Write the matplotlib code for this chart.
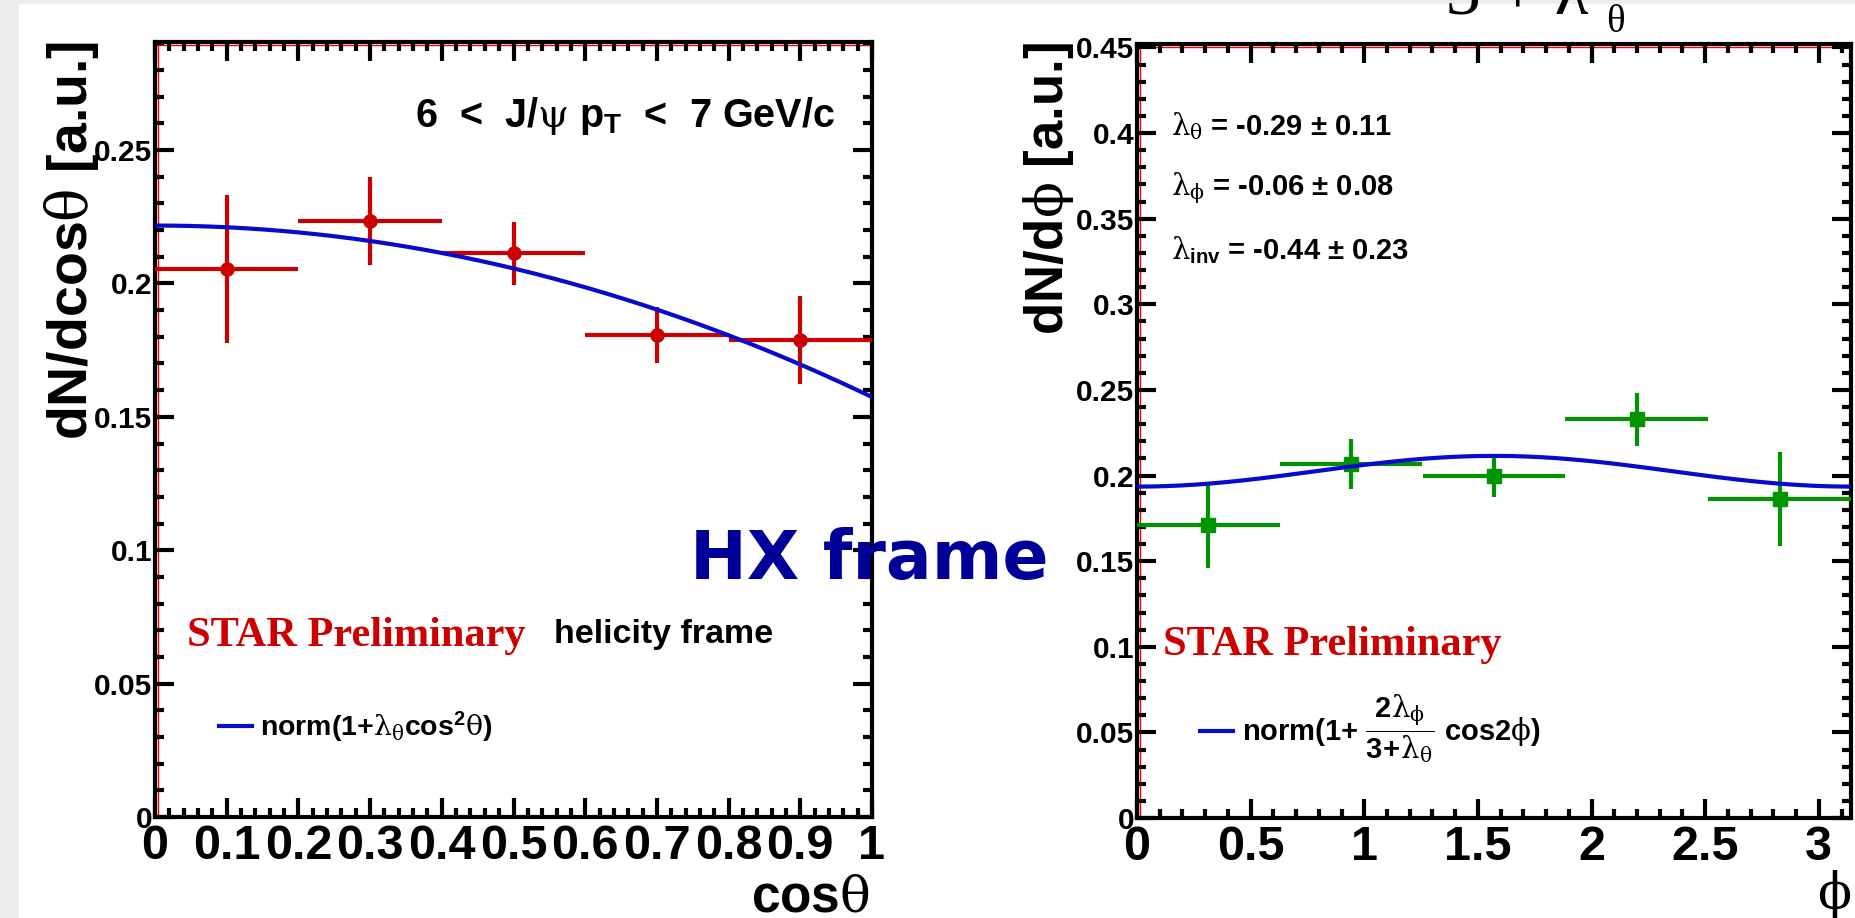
import numpy as np
import matplotlib
matplotlib.use("Agg")
import matplotlib.pyplot as plt
from matplotlib.patches import Rectangle
from matplotlib.lines import Line2D
from matplotlib.ticker import MultipleLocator
from matplotlib.transforms import ScaledTranslation

plt.rcParams["font.family"] = ["Liberation Sans", "DejaVu Sans"]
plt.rcParams["font.weight"] = "bold"
plt.rcParams["mathtext.fontset"] = "custom"
plt.rcParams["mathtext.rm"] = "Liberation Sans:bold"
plt.rcParams["mathtext.bf"] = "Liberation Sans:bold"
plt.rcParams["mathtext.it"] = "DejaVu Serif:weight=normal"
plt.rcParams["mathtext.fallback"] = "stix"

# cos(theta) distribution, helicity frame
cos_centers = [0.1, 0.3, 0.5, 0.7, 0.9]
cos_halfwidth = [0.1, 0.1, 0.1, 0.1, 0.1]
cos_yield = [0.2053, 0.2235, 0.2113, 0.1807, 0.1788]
cos_err = [0.0278, 0.0165, 0.0119, 0.0105, 0.0166]
cos_ticks = [0, 0.1, 0.2, 0.3, 0.4, 0.5, 0.6, 0.7, 0.8, 0.9, 1.0]
cos_tick_labels = ["0", "0.1", "0.2", "0.3", "0.4", "0.5", "0.6", "0.7", "0.8", "0.9", "1"]
cos_yticks = [0, 0.05, 0.1, 0.15, 0.2, 0.25]
cos_ytick_labels = ["0", "0.05", "0.1", "0.15", "0.2", "0.25"]

# phi distribution
phi_centers = [0.314, 0.942, 1.571, 2.199, 2.827]
phi_halfwidth = [0.314, 0.314, 0.314, 0.314, 0.314]
phi_yield = [0.1710, 0.2070, 0.1997, 0.2328, 0.1863]
phi_err = [0.0250, 0.0146, 0.0120, 0.0153, 0.0275]
phi_ticks = [0, 0.5, 1.0, 1.5, 2.0, 2.5, 3.0]
phi_tick_labels = ["0", "0.5", "1", "1.5", "2", "2.5", "3"]
phi_yticks = [0, 0.05, 0.1, 0.15, 0.2, 0.25, 0.3, 0.35, 0.4, 0.45]
phi_ytick_labels = ["0", "0.05", "0.1", "0.15", "0.2", "0.25", "0.3", "0.35", "0.4", "0.45"]

# fit results
norm_cos = 0.2217
norm_phi = 0.2025
lam_theta = -0.29
lam_phi = -0.06

W, H = 1856, 918
fig = plt.figure(figsize=(W / 100, H / 100), dpi=100, facecolor="#ececec")
fig.patches.append(Rectangle((19 / W, 0), 1 - 19 / W, 1 - 4 / H,
                             transform=fig.transFigure, color="white", zorder=-5))


def fx(px):
    return px / W


def fy(py):
    return 1 - py / H


def style(ax, xminor, yminor):
    ax.xaxis.set_minor_locator(MultipleLocator(xminor))
    ax.yaxis.set_minor_locator(MultipleLocator(yminor))
    ax.tick_params(which="both", direction="in", top=True, right=True,
                   width=3, color="black")
    ax.tick_params(which="major", length=14)
    ax.tick_params(which="minor", length=6.5)
    ax.tick_params(axis="x", labelsize=35, pad=5)
    ax.tick_params(axis="y", labelsize=21.5, pad=2)
    for s in ax.spines.values():
        s.set_linewidth(3)
    offx = ScaledTranslation(3 / 100, 0, fig.dpi_scale_trans)
    offy = ScaledTranslation(0, -3 / 100, fig.dpi_scale_trans)
    ax.add_line(Line2D([0, 0], [0, 1], transform=ax.transAxes + offx,
                       color="red", lw=1, zorder=1, clip_on=False))
    ax.add_line(Line2D([0, 1], [1, 1], transform=ax.transAxes + offy,
                       color="red", lw=1, zorder=1, clip_on=False))


# left panel
ax1 = fig.add_axes([fx(155), fy(817), (872 - 155) / W, (817 - 42) / H])
ax1.errorbar(cos_centers, cos_yield, xerr=cos_halfwidth, yerr=cos_err, fmt="o",
             color="#cc0000", ms=9.5, lw=3, capsize=0, zorder=3)
ct = np.linspace(0, 1, 200)
ax1.plot(ct, norm_cos * (1 + lam_theta * ct ** 2), color="#0a0acc", lw=3, zorder=4,
         label=r"norm(1+$\lambda_\theta$cos$^2\theta$)")
ax1.set_xlim(0, 1)
ax1.set_ylim(0, 0.2905)
ax1.set_xticks(cos_ticks, cos_tick_labels)
ax1.set_yticks(cos_yticks, cos_ytick_labels)
style(ax1, 0.02, 0.01)
ax1.legend(loc="center left", bbox_to_anchor=(0.089, 0.116), frameon=False,
           fontsize=20.5, handlelength=1.15, handletextpad=0.3, borderpad=0, borderaxespad=0)

# right panel
ax2 = fig.add_axes([fx(1137), fy(818), (1851 - 1137) / W, (818 - 44) / H])
ax2.errorbar(phi_centers, phi_yield, xerr=phi_halfwidth, yerr=phi_err, fmt="s",
             color="#009400", ms=9.5, lw=3, capsize=0, zorder=3)
ph = np.linspace(0, np.pi, 300)
ax2.plot(ph, norm_phi * (1 + 2 * lam_phi / (3 + lam_theta) * np.cos(2 * ph)),
         color="#0a0acc", lw=3, zorder=4,
         label=r"norm(1+ $\dfrac{2\lambda_\phi}{3\!+\!\lambda_\theta}$ cos2$\phi$)")
ax2.set_xlim(0, np.pi)
ax2.set_ylim(0, 0.452)
ax2.set_xticks(phi_ticks, phi_tick_labels)
ax2.set_yticks(phi_yticks, phi_ytick_labels)
style(ax2, 0.1, 0.01)
ax2.legend(loc="center left", bbox_to_anchor=(0.088, 0.115), frameon=False,
           fontsize=21, handlelength=1.15, handletextpad=0.3, borderpad=0, borderaxespad=0)

# axis titles
fig.text(fx(72), fy(41), r"dN/dcos$\theta$ [a.u.]", rotation=90, ha="center", va="top",
         fontsize=40)
fig.text(fx(1049), fy(42), r"dN/d$\phi$ [a.u.]", rotation=90, ha="center", va="top",
         fontsize=38)
fig.text(fx(870), fy(912), r"cos$\theta$", ha="right", va="baseline", fontsize=37)
fig.text(fx(1851), fy(868), r"$\phi$", ha="right", va="top", fontsize=36)

# annotations
fig.text(fx(835), fy(127), r"6  <  J/$\psi$ p$_\mathrm{T}$  <  7 GeV/c", ha="right",
         va="baseline", fontsize=28.5)
fig.text(fx(187), fy(646), "STAR Preliminary", color="#cc0000", fontsize=30.5,
         family="Liberation Serif", weight="bold", va="baseline")
fig.text(fx(554), fy(643), "helicity frame", fontsize=24.5, va="baseline")
fig.text(fx(1163), fy(655), "STAR Preliminary", color="#cc0000", fontsize=30.5,
         family="Liberation Serif", weight="bold", va="baseline")
fig.text(fx(1171), fy(135), r"$\lambda_\theta$ = -0.29 $\pm$ 0.11", fontsize=21, va="baseline")
fig.text(fx(1171), fy(195), r"$\lambda_\phi$ = -0.06 $\pm$ 0.08", fontsize=21, va="baseline")
fig.text(fx(1171), fy(259), r"$\lambda_\mathrm{inv}$ = -0.44 $\pm$ 0.23", fontsize=21,
         va="baseline")
fig.text(fx(690), fy(579), "HX frame", color="#000099", fontsize=49,
         family="DejaVu Sans", weight="bold", va="baseline")

# denominator of a formula cut off at the top edge
fig.text(fx(1446), fy(14), "3 + λ", fontsize=50, va="baseline",
         family=["Liberation Serif", "DejaVu Serif"], weight="normal")
fig.text(fx(1606), fy(32), "θ", fontsize=28, va="baseline",
         family=["Liberation Serif", "DejaVu Serif"], weight="normal")

fig.savefig("out.png", dpi=100)
